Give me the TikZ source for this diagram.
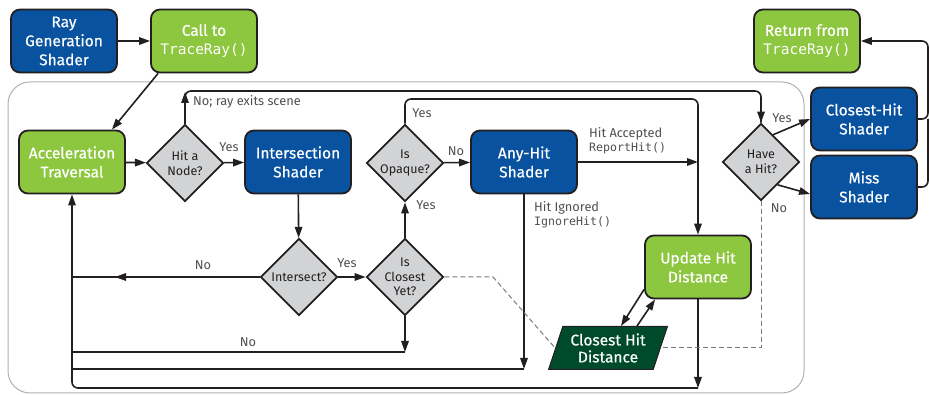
\documentclass[tikz,border=0pt]{standalone}
\usepackage{fontspec}
\setmainfont{Fira Sans}
\newfontfamily\boxfam{Fira Sans}[FakeBold=0.4]
\newfontfamily\monof{DejaVu Sans Mono}
\usetikzlibrary{shapes.geometric, arrows.meta, calc}
\definecolor{cblue}{RGB}{8,82,160}
\definecolor{cgreen}{RGB}{141,198,63}
\definecolor{cdkgreen}{RGB}{0,74,44}
\definecolor{cgray}{RGB}{209,211,212}
\definecolor{cdark}{RGB}{35,31,32}
\definecolor{clabel}{RGB}{80,80,82}
\definecolor{cframe}{RGB}{175,177,180}
\definecolor{cdash}{RGB}{120,120,122}
\newcommand{\boxfont}{\boxfam\fontsize{15.5}{19}\selectfont}
\newcommand{\boxmono}{\monof\fontsize{14.5}{19}\selectfont}
\newcommand{\diafont}{\fontsize{12.5}{14.5}\selectfont}
\newcommand{\lblfont}{\fontsize{12.8}{14}\selectfont}
\newcommand{\lblmono}{\monof\fontsize{11.6}{14}\selectfont}
\tikzset{
 base/.style={draw=cdark, line width=1.8pt, rounded corners=9pt, minimum width=106pt, minimum height=63pt, text=white, align=center, font=\boxfont, inner sep=2pt},
 bbox/.style={base, fill=cblue},
 gbox/.style={base, fill=cgreen},
 dia/.style={diamond, draw=cdark, line width=1.8pt, fill=cgray, minimum width=77pt, minimum height=77pt, inner sep=0pt},
 dtext/.style={align=center, font=\diafont, text=cdark, inner sep=0pt},
 conn/.style={draw=cdark, line width=1.6pt},
 arr/.style={conn, -{Triangle[length=11pt,width=7.5pt]}},
 dsh/.style={draw=cdash, line width=1pt, dash pattern=on 5pt off 3pt},
 lbl/.style={font=\lblfont, text=clabel, inner sep=1pt},
 mlbl/.style={font=\lblmono, text=clabel, inner sep=1pt},
}
\begin{document}
\begin{tikzpicture}[x=1pt,y=-1pt]
\useasboundingbox (0,0) rectangle (930,395);
\draw[cframe, line width=1pt, rounded corners=22pt] (8,82) rectangle (804,393);

% nodes
\node[bbox] (rg) at (64,41) {Ray\\Generation\\Shader};
\node[gbox] (call) at (204,41) {Call to\\{\boxmono TraceRay()}};
\node[gbox] (ret) at (807,41) {Return from\\{\boxmono TraceRay()}};
\node[gbox] (acc) at (72,162) {Acceleration\\Traversal};
\node[dia, label={[dtext]center:Hit a\\Node?}] (hit) at (185,163) {};
\node[bbox] (isect) at (298,162) {Intersection\\Shader};
\node[dia, label={[dtext]center:Is\\Opaque?}] (opq) at (405,163) {};
\node[bbox] (any) at (524,162) {Any-Hit\\Shader};
\node[dia, label={[dtext]center:Have\\a Hit?}] (have) at (761,162) {};
\node[bbox] (chs) at (864,119) {Closest-Hit\\Shader};
\node[bbox] (miss) at (864,187) {Miss\\Shader};
\node[dia, label={[dtext]center:Intersect?}] (ix) at (299,277) {};
\node[dia, label={[dtext]center:Is\\Closest\\Yet?}] (clo) at (405,277) {};
\node[gbox] (upd) at (698,267) {Update Hit\\Distance};
\node[trapezium, trapezium left angle=68, trapezium right angle=112, trapezium stretches=true, minimum width=119pt, minimum height=43pt, fill=cdkgreen, draw=cdark, line width=1pt, text=white, align=center, font=\boxfam\fontsize{15.5}{17}\selectfont, inner sep=0pt] (chd) at (608,348) {Closest Hit\\Distance};

% connectors
\draw[arr] (rg) -- (call);
\draw[arr] ($(call.south west)+(8,0)$) -- ($(acc.north east)+(-14,0)$);
\draw[arr] (acc) -- (hit);
\draw[arr] (hit) -- (isect);
\draw[conn, rounded corners=6pt] (hit.north) -- (185,91) -- (have.north |- 0,91) -- (have.north);
\draw[arr] (hit.north) -- (185,92);
\draw[arr] (have.north |- 0,110) -- (have.north);
\draw[arr] (isect) -- (ix);
\draw[conn] (ix.west) -- (acc.south |- ix.west);
\draw[arr] (ix.west) -- (115,277);
\draw[arr] (ix) -- (clo);
\draw[arr] (clo) -- (opq);
\draw[arr] (opq) -- (any);
\draw[arr, rounded corners=6pt] (opq.north) |- (upd.north |- 0,99) -- (upd.north);
\draw[arr] (any.east) -- (upd.north |- any.east);
\draw[arr] (any.south) -- (any.south |- 0,369);
\draw[conn] (any.south |- 0,369) -- (acc.south |- 0,369);
\draw[arr] (clo.south) -- (clo.south |- 0,352);
\draw[conn] (clo.south |- 0,352) -- (acc.south |- 0,352);
\draw[arr] (upd.south) -- (upd.south |- 0,388);
\draw[arr, rounded corners=6pt] (upd.south |- 0,388) -- (acc.south |- 0,388) -- (acc.south);
\draw[arr] ($(upd.south west)+(0,-10)$) -- ($(chd.north)+(13,0)$);
\draw[arr] ($(chd.north)+(29,0)$) -- ($(upd.south west)+(11,0)$);
\draw[dsh] (clo.east) -- (493,277) -- (chd.west);
\draw[dsh] (have.south) |- (chd.east);
\draw[arr] (have.66) -- (chs.west);
\draw[arr] (have.-54) -- ($(miss.west)+(0,7)$);
\draw[arr, rounded corners=6pt] (chs.east) -| (928,41) -- (ret.east);
\draw[conn, rounded corners=6pt] (miss.east) -| (928,119);

% labels
\node[lbl, anchor=west] (l1) at (192,102) {No; ray exits scene};
\node[lbl] (l2) at (229,147) {Yes};
\node[lbl] (l3) at (203,265) {No};
\node[lbl] (l4) at (347,263) {Yes};
\node[lbl] (l5) at (426,205) {Yes};
\node[lbl] (l6) at (456,151) {No};
\node[lbl] (l7) at (422,113) {Yes};
\node[lbl, anchor=west] (l8) at (588,134) {Hit Accepted};
\node[mlbl, anchor=west] (l9) at (588,148) {ReportHit()};
\node[lbl, anchor=west] (l10) at (533,208) {Hit Ignored};
\node[mlbl, anchor=west] (l11) at (533,222) {IgnoreHit()};
\node[lbl] (l12) at (248,342) {No};
\node[lbl] (l13) at (782,118) {Yes};
\node[lbl] (l14) at (779,208) {No};
\end{tikzpicture}
\end{document}
